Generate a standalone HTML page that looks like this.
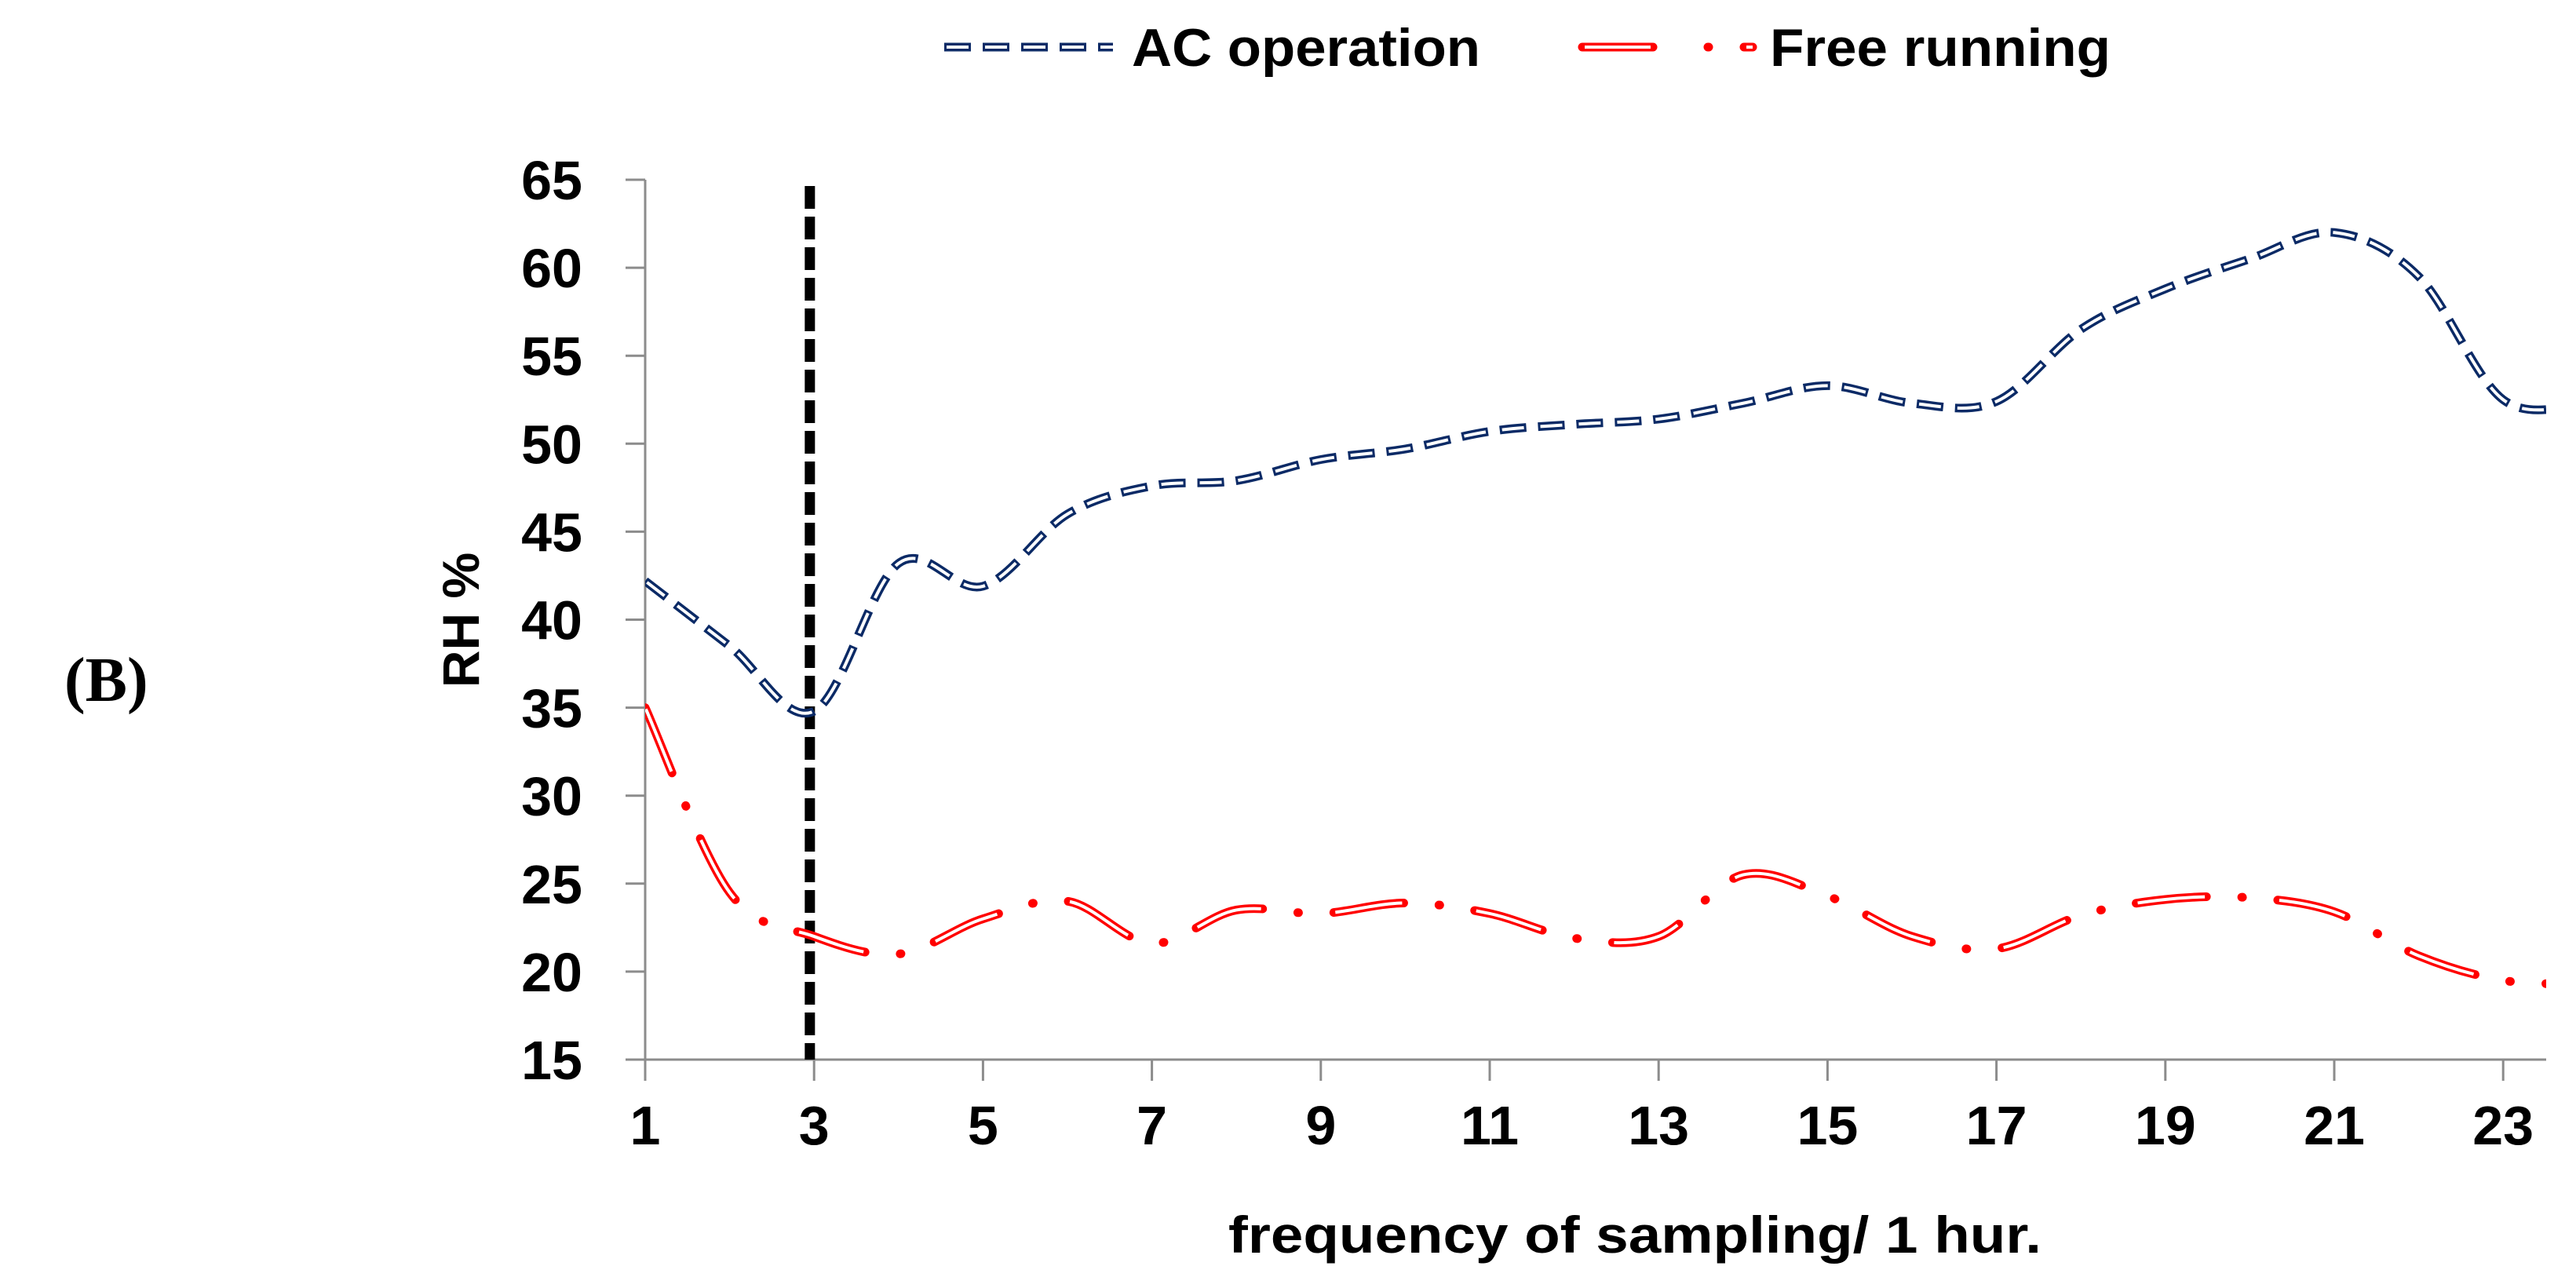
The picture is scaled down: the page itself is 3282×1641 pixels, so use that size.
<!DOCTYPE html>
<html><head><meta charset="utf-8"><style>
html,body{margin:0;padding:0;background:#fff;}
svg{display:block;}
text{font-family:"Liberation Sans",sans-serif;font-weight:bold;fill:#000;}
</style></head><body>
<svg id="chart" width="3282" height="1641" viewBox="0 0 3282 1641" xmlns="http://www.w3.org/2000/svg">
<g id="axes"></g>
<g id="series"></g>
<text x="82" y="893" style="font-family:'Liberation Serif',serif;font-size:80px;">(B)</text>
<text transform="translate(610,790) rotate(-90)" text-anchor="middle" style="font-size:66px;">RH %</text>
<text x="2083" y="1596" text-anchor="middle" textLength="1036" lengthAdjust="spacingAndGlyphs" style="font-size:66px;">frequency of sampling/ 1 hur.</text>
<g>
  <g>
    <line x1="1203" y1="60" x2="1418" y2="60" stroke="#0b2a66" stroke-width="11" stroke-dasharray="34 15"/>
    <line x1="1206" y1="60" x2="1418" y2="60" stroke="#fff" stroke-width="4" stroke-dasharray="28 21"/>
    <text x="1442" y="84" textLength="444" lengthAdjust="spacingAndGlyphs" style="font-size:68px;">AC operation</text>
  </g>
  <g>
    <line x1="2016" y1="60" x2="2233" y2="60" stroke="#ff0000" stroke-width="11" stroke-dasharray="90 70 1 45" stroke-linecap="round"/>
    <line x1="2019" y1="60" x2="2233" y2="60" stroke="#fff" stroke-width="4" stroke-dasharray="84 122"/>
    <text x="2255" y="84" textLength="434" lengthAdjust="spacingAndGlyphs" style="font-size:68px;">Free running</text>
  </g>
</g>
</svg>
<script>
const xs = [1,2,3,4,5,6,7,8,9,10,11,12,13,14,15,16,17,18,19,20,21,22,23,24];
const acValues = [42.2,38.5,34.8,43.2,41.9,46.0,47.6,47.9,49.1,49.7,50.7,51.1,51.4,52.3,53.3,52.3,52.4,56.5,58.8,60.5,62.0,59.5,52.5,52.3];
const freeValues = [35.0,24.5,22.0,21.0,23.0,24.0,21.6,23.5,23.3,23.9,23.3,21.9,22.0,25.5,24.3,22.0,21.3,23.2,24.1,24.2,23.4,20.9,19.5,19.3];
const yTicks = [15,20,25,30,35,40,45,50,55,60,65];
const xTickLabels = [1,3,5,7,9,11,13,15,17,19,21,23];
const markerX = 2.95;

const NS="http://www.w3.org/2000/svg";
const X0=822, XMAX=3244, Y15=1350, Y65=229;
function xPos(v){return X0+(v-1)*107.6;}
function yPos(v){return Y15-(v-15)*(Y15-Y65)/50;}
function mk(tag,attrs,parent){const e=document.createElementNS(NS,tag);for(const k in attrs)e.setAttribute(k,attrs[k]);parent.appendChild(e);return e;}
const axes=document.getElementById('axes'), series=document.getElementById('series');
const svg=document.getElementById('chart');
const defs=mk('defs',{},svg);
const cp=mk('clipPath',{id:'plotclip'},defs);
mk('rect',{x:X0,y:0,width:XMAX-X0,height:1641},cp);

const yl=mk('line',{x1:X0,y1:Y65,x2:X0,y2:Y15,stroke:'#8c8c8c','stroke-width':3},axes);


const xl=mk('line',{x1:X0,y1:Y15,x2:XMAX,y2:Y15,stroke:'#8c8c8c','stroke-width':3},axes);


yTicks.forEach(t=>{
  const y=yPos(t);
  const tk=mk('line',{x1:X0-25,y1:y,x2:X0,y2:y,stroke:'#8c8c8c','stroke-width':3},axes);
  
  
  const tx=mk('text',{x:742,y:y+25,'text-anchor':'end','font-size':70},axes);
  tx.textContent=t;
  
  
});
xTickLabels.forEach(t=>{
  const x=xPos(t);
  const tk=mk('line',{x1:x,y1:Y15,x2:x,y2:Y15+27,stroke:'#8c8c8c','stroke-width':3},axes);
  
  
  const tx=mk('text',{x:x,y:1458,'text-anchor':'middle','font-size':70},axes);
  tx.textContent=t;
  
  
});
const vl=mk('line',{x1:xPos(markerX),y1:237,x2:xPos(markerX),y2:Y15,stroke:'#000','stroke-width':13,'stroke-dasharray':'29 10'},series);



function smoothPath(vals){
  const p=xs.map((x,i)=>[xPos(x),yPos(vals[i])]);
  let d='M'+p[0][0]+','+p[0][1];
  for(let i=0;i<p.length-1;i++){
    const p0=p[i-1]||p[i],p1=p[i],p2=p[i+1],p3=p[i+2]||p[i+1];
    const c1=[p1[0]+(p2[0]-p0[0])/6,p1[1]+(p2[1]-p0[1])/6];
    const c2=[p2[0]-(p3[0]-p1[0])/6,p2[1]-(p3[1]-p1[1])/6];
    d+=' C'+c1.join(',')+' '+c2.join(',')+' '+p2.join(',');
  }
  return d;
}
const g1=mk('g',{'clip-path':'url(#plotclip)'},series);


const d1=smoothPath(acValues);
mk('path',{d:d1,fill:'none',stroke:'#0b2a66','stroke-width':11,'stroke-dasharray':'34 15'},g1);
mk('path',{d:d1,fill:'none',stroke:'#fff','stroke-width':4,'stroke-dasharray':'28 21','stroke-dashoffset':-3},g1);
const g2=mk('g',{'clip-path':'url(#plotclip)'},series);


const d2=smoothPath(freeValues);
mk('path',{d:d2,fill:'none',stroke:'#ff0000','stroke-width':11,'stroke-dasharray':'90 45 1 45','stroke-linecap':'round'},g2);
mk('path',{d:d2,fill:'none',stroke:'#fff','stroke-width':4,'stroke-dasharray':'86 95','stroke-dashoffset':-2},g2);
</script>
</body></html>
